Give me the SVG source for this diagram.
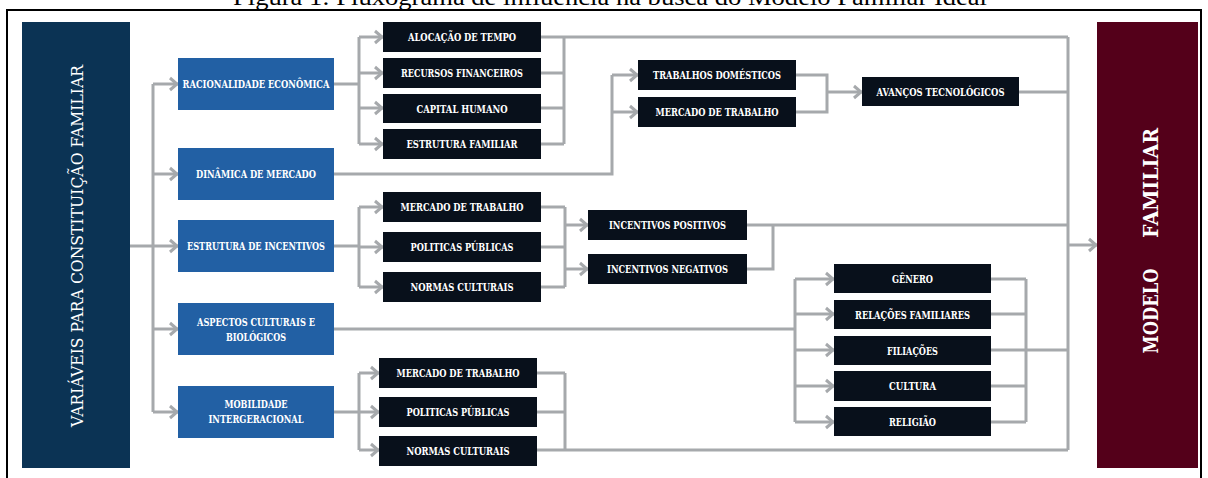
<svg xmlns="http://www.w3.org/2000/svg" width="1208" height="478" viewBox="0 0 1208 478">
<defs>
<style>
.t{font-family:"DejaVu Serif",serif;font-weight:bold;font-size:10.5px;fill:#ffffff;text-anchor:middle;dominant-baseline:central}
.blue{fill:#2260a4}
.blk{fill:#08101b}
.c path{fill:none;stroke:#a6a9ac;stroke-width:3}
.arr{marker-end:url(#ah)}
</style>
<marker id="ah" markerUnits="userSpaceOnUse" viewBox="0 0 12 16" refX="11" refY="8" markerWidth="12" markerHeight="16" orient="auto">
<path d="M3,2 L10,8 L3,14" fill="none" stroke="#a6a9ac" stroke-width="3"/>
</marker>
</defs>
<rect width="1208" height="478" fill="#ffffff"/>
<text x="610" y="5" font-family="Liberation Serif, serif" font-size="23" text-anchor="middle" textLength="754" lengthAdjust="spacingAndGlyphs" fill="#000">Figura 1: Fluxograma de influência na busca do Modelo Familiar Ideal</text>
<rect x="7" y="10" width="1194" height="480" fill="none" stroke="#000" stroke-width="2"/>

<g class="c" id="connectors">
<path d="M130,246 H153 M153,84 V412"/>
<path class="arr" d="M153,84 H178"/>
<path class="arr" d="M153,174 H178"/>
<path class="arr" d="M153,246 H178"/>
<path class="arr" d="M153,329 H178"/>
<path class="arr" d="M153,412 H178"/>

<path d="M334,84 H359 M359,37 V144"/>
<path class="arr" d="M359,37 H383"/>
<path class="arr" d="M359,73 H383"/>
<path class="arr" d="M359,108 H383"/>
<path class="arr" d="M359,144 H383"/>
<path d="M541,37 H1068 M541,73 H564 M541,108 H564 M541,144 H564 M564,37 V144"/>

<path d="M334,174 H612 V75"/>
<path class="arr" d="M612,75 H638"/>
<path class="arr" d="M612,112 H638"/>
<path d="M796,75 H827 V112 H796"/>
<path class="arr" d="M827,92 H862"/>
<path d="M1019,92 H1068"/>

<path d="M334,246 H359 M359,207 V287"/>
<path class="arr" d="M359,207 H383"/>
<path class="arr" d="M359,247 H383"/>
<path class="arr" d="M359,287 H383"/>
<path d="M541,207 H565 M541,247 H565 M541,287 H565 M565,207 V287"/>
<path class="arr" d="M565,225 H588"/>
<path class="arr" d="M565,269 H588"/>
<path d="M747,225 H1068 M747,269 H773 V225"/>

<path d="M334,329 H795 M795,279 V422"/>
<path class="arr" d="M795,279 H834"/>
<path class="arr" d="M795,314 H834"/>
<path class="arr" d="M795,350 H834"/>
<path class="arr" d="M795,386 H834"/>
<path class="arr" d="M795,422 H834"/>
<path d="M991,279 H1026 M991,314 H1026 M991,350 H1026 M991,386 H1026 M991,422 H1026 M1026,279 V422 M1026,350 H1068"/>

<path d="M334,412 H359 M359,373 V450"/>
<path class="arr" d="M359,373 H379"/>
<path class="arr" d="M359,412 H379"/>
<path class="arr" d="M359,450 H379"/>
<path d="M537,373 H565 M537,412 H565 M537,450 H565 M565,373 V450 M565,450 H1068"/>

<path d="M1068,37 V450"/>
<path class="arr" d="M1068,245 H1097"/>
</g>

<g id="variaveis">
<rect x="22" y="22" width="108" height="446" fill="#0b3354"/>
<text transform="translate(83,246) rotate(-90)" font-family="DejaVu Serif, serif" font-size="17" fill="#fff" text-anchor="middle" textLength="362" lengthAdjust="spacingAndGlyphs">VARIÁVEIS PARA CONSTITUIÇÃO FAMILIAR</text>
</g>
<g id="modelo">
<rect x="1097" y="22" width="101" height="446" fill="#54001a"/>
<text transform="translate(1158,311) rotate(-90)" font-family="DejaVu Serif, serif" font-weight="bold" font-size="20" fill="#fff" text-anchor="middle" textLength="85" lengthAdjust="spacingAndGlyphs">MODELO</text>
<text transform="translate(1158,183) rotate(-90)" font-family="DejaVu Serif, serif" font-weight="bold" font-size="20" fill="#fff" text-anchor="middle" textLength="110" lengthAdjust="spacingAndGlyphs">FAMILIAR</text>
</g>

<g id="racionalidade"><rect class="blue" x="178" y="58" width="156" height="52"/><text class="t" x="256" y="84" textLength="147" lengthAdjust="spacingAndGlyphs">RACIONALIDADE ECONÔMICA</text></g>
<g id="dinamica"><rect class="blue" x="178" y="148" width="156" height="52"/><text class="t" x="256" y="174" textLength="120" lengthAdjust="spacingAndGlyphs">DINÂMICA DE MERCADO</text></g>
<g id="estrutura"><rect class="blue" x="178" y="220" width="156" height="52"/><text class="t" x="256" y="246" textLength="138" lengthAdjust="spacingAndGlyphs">ESTRUTURA DE INCENTIVOS</text></g>
<g id="aspectos"><rect class="blue" x="178" y="303" width="156" height="52"/><text class="t" x="256" y="322" textLength="118" lengthAdjust="spacingAndGlyphs">ASPECTOS CULTURAIS E</text><text class="t" x="256" y="337" textLength="60" lengthAdjust="spacingAndGlyphs">BIOLÓGICOS</text></g>
<g id="mobilidade"><rect class="blue" x="178" y="386" width="156" height="52"/><text class="t" x="256" y="404" textLength="63" lengthAdjust="spacingAndGlyphs">MOBILIDADE</text><text class="t" x="256" y="419" textLength="95" lengthAdjust="spacingAndGlyphs">INTERGERACIONAL</text></g>

<g id="alocacao"><rect class="blk" x="383" y="22" width="158" height="30"/><text class="t" x="462" y="37" textLength="108" lengthAdjust="spacingAndGlyphs">ALOCAÇÃO DE TEMPO</text></g>
<g id="recursos"><rect class="blk" x="383" y="58" width="158" height="30"/><text class="t" x="462" y="73" textLength="122" lengthAdjust="spacingAndGlyphs">RECURSOS FINANCEIROS</text></g>
<g id="capital"><rect class="blk" x="383" y="94" width="158" height="29"/><text class="t" x="462" y="108.5" textLength="91" lengthAdjust="spacingAndGlyphs">CAPITAL HUMANO</text></g>
<g id="estrutura-familiar"><rect class="blk" x="383" y="129" width="158" height="30"/><text class="t" x="462" y="144" textLength="111" lengthAdjust="spacingAndGlyphs">ESTRUTURA FAMILIAR</text></g>

<g id="trabalhos-domesticos"><rect class="blk" x="638" y="60" width="158" height="30"/><text class="t" x="717" y="75" textLength="128" lengthAdjust="spacingAndGlyphs">TRABALHOS DOMÉSTICOS</text></g>
<g id="mercado-trabalho-1"><rect class="blk" x="638" y="97" width="158" height="30"/><text class="t" x="717" y="112" textLength="123" lengthAdjust="spacingAndGlyphs">MERCADO DE TRABALHO</text></g>
<g id="avancos"><rect class="blk" x="862" y="77" width="157" height="29"/><text class="t" x="940.5" y="91.5" textLength="128" lengthAdjust="spacingAndGlyphs">AVANÇOS TECNOLÓGICOS</text></g>

<g id="mercado-trabalho-2"><rect class="blk" x="383" y="192" width="158" height="30"/><text class="t" x="462" y="207" textLength="123" lengthAdjust="spacingAndGlyphs">MERCADO DE TRABALHO</text></g>
<g id="politicas-1"><rect class="blk" x="383" y="232" width="158" height="30"/><text class="t" x="462" y="247" textLength="103" lengthAdjust="spacingAndGlyphs">POLITICAS PÚBLICAS</text></g>
<g id="normas-1"><rect class="blk" x="383" y="272" width="158" height="30"/><text class="t" x="462" y="287" textLength="103" lengthAdjust="spacingAndGlyphs">NORMAS CULTURAIS</text></g>
<g id="incentivos-positivos"><rect class="blk" x="588" y="210" width="159" height="30"/><text class="t" x="667.5" y="225" textLength="117" lengthAdjust="spacingAndGlyphs">INCENTIVOS POSITIVOS</text></g>
<g id="incentivos-negativos"><rect class="blk" x="588" y="254" width="159" height="30"/><text class="t" x="667.5" y="269" textLength="121" lengthAdjust="spacingAndGlyphs">INCENTIVOS NEGATIVOS</text></g>

<g id="genero"><rect class="blk" x="834" y="264" width="157" height="29"/><text class="t" x="912.5" y="278.5" textLength="41" lengthAdjust="spacingAndGlyphs">GÊNERO</text></g>
<g id="relacoes"><rect class="blk" x="834" y="300" width="157" height="29"/><text class="t" x="912.5" y="314.5" textLength="115" lengthAdjust="spacingAndGlyphs">RELAÇÕES FAMILIARES</text></g>
<g id="filiacoes"><rect class="blk" x="834" y="336" width="157" height="29"/><text class="t" x="912.5" y="350.5" textLength="51" lengthAdjust="spacingAndGlyphs">FILIAÇÕES</text></g>
<g id="cultura"><rect class="blk" x="834" y="371" width="157" height="30"/><text class="t" x="912.5" y="386" textLength="47" lengthAdjust="spacingAndGlyphs">CULTURA</text></g>
<g id="religiao"><rect class="blk" x="834" y="407" width="157" height="29"/><text class="t" x="912.5" y="421.5" textLength="47" lengthAdjust="spacingAndGlyphs">RELIGIÃO</text></g>

<g id="mercado-trabalho-3"><rect class="blk" x="379" y="358" width="158" height="30"/><text class="t" x="458" y="373" textLength="123" lengthAdjust="spacingAndGlyphs">MERCADO DE TRABALHO</text></g>
<g id="politicas-2"><rect class="blk" x="379" y="397" width="158" height="30"/><text class="t" x="458" y="412" textLength="103" lengthAdjust="spacingAndGlyphs">POLITICAS PÚBLICAS</text></g>
<g id="normas-2"><rect class="blk" x="379" y="436" width="158" height="30"/><text class="t" x="458" y="451" textLength="103" lengthAdjust="spacingAndGlyphs">NORMAS CULTURAIS</text></g>
</svg>
